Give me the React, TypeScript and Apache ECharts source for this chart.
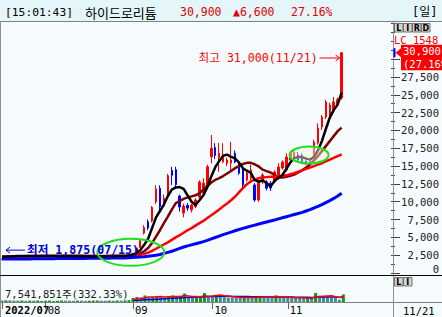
import React, { useEffect, useRef } from 'react';
import * as echarts from 'echarts';

const dates = [
  '07/15','07/18','07/19','07/20','07/21','07/22','07/25','07/26','07/27','07/28','07/29',
  '08/01','08/02','08/03','08/04','08/05','08/08','08/09','08/10','08/11','08/12','08/16','08/17','08/18','08/19','08/22','08/23','08/24','08/25','08/26','08/29','08/30','08/31',
  '09/01','09/02','09/05','09/06','09/07','09/08','09/13','09/14','09/15','09/16','09/19','09/20','09/21','09/22','09/23','09/26','09/27','09/28','09/29','09/30',
  '10/04','10/05','10/06','10/07','10/11','10/12','10/13','10/14','10/17','10/18','10/19','10/20','10/21','10/24','10/25','10/26','10/27','10/28','10/31',
  '11/01','11/02','11/03','11/04','11/07','11/08','11/09','11/10','11/11','11/14','11/15','11/16','11/17','11/18','11/21',
];
const futureSlots = 12;

const opens = [
  1900,1990,2100,2250,2380,2350,2400,2380,2420,2390,
  2360,2400,2380,2350,2370,2400,2420,2390,2360,2340,
  2370,2350,2330,2310,2340,2360,2380,2360,2390,2410,
  2400,2430,2450,2500,2750,3600,5600,7200,7300,10000,
  11900,9500,10700,14400,14500,10800,8400,9500,8850,9300,
  10660,11200,12100,16300,17600,16200,15600,15400,15400,16800,
  15400,14700,13050,13300,12350,10240,12770,12770,12600,12770,
  13330,14730,14450,15850,16130,16550,16500,15700,15600,16830,
  18240,20480,21890,22170,22870,23570,24550,
];
const closes = [
  1980,2100,2250,2380,2350,2400,2380,2420,2390,2360,
  2400,2380,2350,2370,2400,2420,2390,2360,2340,2370,
  2350,2330,2310,2340,2360,2380,2360,2390,2410,2400,
  2430,2450,2500,2700,3500,4550,6400,6300,9200,11800,
  9300,10500,13650,13700,12400,9260,9400,9100,9540,10240,
  12770,12600,14900,17500,16500,16800,16500,15850,15850,15570,
  14000,12350,14030,14450,10240,12600,13750,11900,11930,14170,
  14870,15570,16270,16830,16970,15850,15600,15400,15300,18380,
  20340,21890,23990,23570,23990,24300,30900,
];
const lows = [
  1875,1960,2080,2220,2300,2320,2350,2350,2360,2330,
  2340,2350,2320,2320,2350,2380,2370,2340,2310,2320,
  2330,2300,2290,2290,2320,2340,2340,2350,2370,2380,
  2390,2400,2420,2480,2700,3500,5400,6000,7100,9700,
  8800,9300,10400,12350,12000,8600,7800,8700,8500,9100,
  10400,10800,11800,15400,16000,14200,15400,15000,14200,15400,
  13800,12000,12800,13000,10000,10000,12500,11600,11500,12600,
  13100,14500,14200,15500,15900,15600,15300,15200,15100,16500,
  18000,20060,21600,22000,22600,23300,24300,
];
const highs = [
  2010,2150,2300,2420,2450,2450,2440,2470,2450,2420,
  2430,2440,2400,2400,2430,2460,2450,2410,2380,2400,
  2390,2370,2350,2370,2390,2410,2400,2420,2440,2440,
  2470,2500,2550,2750,3510,4600,6700,7500,9400,12300,
  12300,11000,13900,14900,14900,11000,9700,9800,9700,10500,
  13000,13300,15200,19360,18200,18240,18200,16200,18400,17200,
  15600,15000,14300,15200,12600,12900,14000,13000,12900,14400,
  15400,15800,16800,17100,17300,17000,16800,15800,15700,18700,
  21000,22170,24270,23900,24700,24600,31000,
];

const ma5 = [
  2280,2300,2330,2350,2370,
  2380,2390,2390,2400,2400,2390,2390,2380,2380,2380,2390,2400,2400,2390,2380,2370,2360,2350,2340,2340,2350,2360,2370,2380,2390,2400,
  2420,2460,2560,2800,3200,3950,4800,6300,7800,8700,9600,10800,11700,12000,12050,11800,10900,10000,9550,10200,
  10900,12050,13550,14850,15700,16450,16600,16300,16100,15500,14700,14350,14050,13050,12800,13000,12600,12150,12900,13350,
  13750,14600,15500,16100,16300,16250,16050,15900,16300,17200,18500,20200,21800,22850,23650,25300,
];
const ma10 = [
  2250,2260,2270,2290,2300,2320,2330,2340,2350,2360,2370,
  2380,2380,2380,2380,2390,2390,2390,2390,2380,2380,2380,2370,2370,2370,2360,2360,2360,2370,2370,2380,
  2390,2400,2450,2550,2750,3050,3500,4200,5100,
  6000,7000,7900,8900,9800,10100,10400,10600,10750,10900,11200,11700,12200,12700,13050,13300,13600,13950,14300,14700,
  15000,15300,15450,15450,15250,14950,14500,14300,14100,13750,13400,13400,13500,13650,13800,14100,14400,14800,15250,15800,
  16400,17100,17800,18500,19200,19900,20400,
];
const ma20 = [
  2300,2310,2320,2330,2340,2350,2360,2370,2370,2380,2380,
  2380,2380,2390,2390,2390,2390,2390,2390,2390,2390,2390,2380,2380,2380,2380,2380,2380,2380,2380,2380,
  2390,2400,2420,2460,2550,2680,2850,3100,3400,3700,4000,4300,4650,5000,5300,5650,6000,6300,6650,7000,
  7300,7700,8100,8500,8900,9350,9750,10200,10700,11300,11900,12450,12850,13100,13300,13400,13450,13500,13500,13550,
  13600,13700,13850,14000,14200,14400,14600,14800,15000,15200,15400,15650,15900,16150,16400,16650,
];
const ma60 = [
  1950,1950,1960,1960,1970,1970,1980,1980,1990,1990,
  2000,2000,2010,2010,2020,2020,2030,2030,2040,2040,
  2050,2050,2060,2060,2070,2070,2080,2080,2090,2100,
  2110,2120,2130,2180,2220,2250,2280,2340,2420,2500,
  2600,2750,2900,3050,3250,3450,3650,3800,3950,4100,
  4250,4400,4580,4780,4980,5180,5380,5560,5740,5920,
  6100,6260,6420,6570,6720,6870,7010,7150,7290,7430,
  7600,7750,7900,8050,8200,8350,8500,8700,8900,9120,
  9350,9600,9880,10160,10460,10800,11200,
];

// volume in millions of shares
const volumes = [
  1.5,1.7,1.6,1.4,1.3,1.5,1.2,1.4,1.3,1.5,1.2,1.3,1.4,1.2,1.3,1.5,1.4,1.3,1.2,1.4,1.3,1.2,1.3,1.4,1.5,1.3,1.2,1.4,1.3,1.5,1.4,1.6,1.8,
  4,5,4.5,6.5,4.5,5,6,5,4.5,6,
  6.5,5,6,8.5,4.5,4,4.5,5,9,6,
  6,7,7,5,4.5,4.5,4.5,4.5,5,4.5,
  4,5,6,6,4.5,4.5,6.5,4.5,4.5,4.5,
  4,4,4,3.5,4,3.5,9,6.5,6,5,
  4.5,4,2.2694,7.541851,
];
const volMaStart = 33;
const volMa5 = [
  2.2,2.9,3.4,4.2,4.9,5.1,5.3,5.4,5.0,5.3,5.6,5.4,5.6,6.4,6.1,5.6,5.5,5.3,6.2,5.7,
  6.1,6.6,7.0,6.2,5.9,5.6,5.1,4.7,4.6,4.6,4.5,4.6,4.9,5.1,5.1,5.2,5.5,5.2,4.9,4.9,
  4.8,4.3,4.2,4.0,3.9,3.8,4.8,5.3,5.8,6.0,6.2,5.2,4.4,4.7,
];
const volMa20 = [
  1.6,1.8,1.9,2.2,2.4,2.6,2.8,3.0,3.2,3.4,3.7,3.9,4.1,4.5,4.6,4.7,4.9,5.0,5.3,5.4,
  5.5,5.6,5.7,5.7,5.7,5.6,5.6,5.5,5.5,5.4,5.3,5.3,5.3,5.2,5.2,5.1,5.1,5.0,5.0,4.9,
  4.9,4.8,4.8,4.7,4.7,4.6,4.8,4.9,5.0,5.0,5.0,4.9,4.8,5.0,
];

const monthLabels = ['2022/07', '08', '09', '10', '11'];
const clockText = '[15:01:43]';
const stockName = '하이드로리튬';
const periodText = '[일]';
const lcText = 'LC 1548';
const buttonsTop = ['L', 'I', 'R', 'D'];
const buttonsVol = ['L', 'I'];
const circleIdx = [33, 77];
const circlePrice = [2900, 16550];

const MONO = '"DejaVu Sans Mono", "Noto Sans CJK KR", monospace';
const KR = '"Noto Sans CJK KR", "DejaVu Sans", sans-serif';
const BG = '#f6fbfd';

const fmt = (n: number) => Math.round(n).toLocaleString('en-US');

export default function App() {
  const ref = useRef<HTMLDivElement>(null);

  useEffect(() => {
    const el = ref.current!;
    const chart = echarts.init(el, null, { renderer: 'svg' });
    const cats = [...dates, ...Array.from({ length: futureSlots }, (_, k) => `+${k + 1}`)];
    const monthIdx: number[] = [];
    dates.forEach((d, i) => {
      if (i === 0 || d.slice(0, 2) !== dates[i - 1].slice(0, 2)) monthIdx.push(i);
    });
    const labelAt = new Map<number, string>();
    monthIdx.forEach((i, k) => labelAt.set(i, monthLabels[k]));

    const candleData = opens.map((o, i) => [o, closes[i], lows[i], highs[i]]);
    const volData = volumes.map((v, i) => ({
      value: v,
      itemStyle: { color: i > 0 && v > volumes[i - 1] ? '#109a10' : '#3f8f8f' },
    }));
    const pad = (arr: number[]) => [...Array(volMaStart).fill(null), ...arr];

    const option: any = {
      animation: false,
      backgroundColor: BG,
      grid: [
        { left: 0, width: 393, top: 23.5, height: 249.5 },
        { left: 0, width: 393, top: 276, height: 26 },
      ],
      xAxis: [
        {
          type: 'category', gridIndex: 0, data: cats, boundaryGap: true,
          axisLine: { show: false }, axisTick: { show: false }, axisLabel: { show: false }, splitLine: { show: false },
        },
        {
          type: 'category', gridIndex: 1, data: cats, boundaryGap: true,
          axisLine: { show: false },
          axisTick: { show: true, alignWithLabel: true, interval: (i: number) => labelAt.has(i), length: 7, lineStyle: { color: '#606060' } },
          axisLabel: {
            show: true,
            hideOverlap: false,
            interval: (i: number) => labelAt.has(i) && i > 0,
            formatter: (_v: string, i: number) => (i === 0 ? '' : labelAt.get(i) ?? ''),
            align: 'left', margin: 3, padding: [0, 0, 0, 2],
            color: '#000', fontFamily: MONO, fontSize: 10.5,
          },
          splitLine: { show: false },
        },
      ],
      yAxis: [
        {
          type: 'value', gridIndex: 0, position: 'right', min: 0, max: 35000, interval: 2500,
          axisLine: { show: false },
          axisTick: { show: true, length: 9, lineStyle: { color: '#404040' } },
          minorTick: { show: true, splitNumber: 2, length: 4, lineStyle: { color: '#404040' } },
          splitLine: { show: false },
          axisLabel: {
            align: 'right', margin: 48, color: '#202020', fontFamily: MONO, fontSize: 10.5,
            formatter: (v: number) => (v > 27500 ? '' : v === 0 ? '{z|0}' : fmt(v)),
            rich: { z: { padding: [0, 0, 9, 0], fontFamily: MONO, fontSize: 10.5, color: '#202020' } },
          },
        },
        { type: 'value', gridIndex: 1, min: 0, max: 26, show: false },
      ],
      series: [
        {
          type: 'candlestick', xAxisIndex: 0, yAxisIndex: 0, data: candleData, barWidth: 2, silent: true,
          itemStyle: { color: '#ff0000', color0: '#0000ff', borderColor: '#ff0000', borderColor0: '#0000ff', borderWidth: 1 },
        },
        { type: 'line', name: 'MA10', xAxisIndex: 0, yAxisIndex: 0, data: ma10, symbol: 'none', silent: true, lineStyle: { color: '#800000', width: 2.5 } },
        { type: 'line', name: 'MA20', xAxisIndex: 0, yAxisIndex: 0, data: ma20, symbol: 'none', silent: true, lineStyle: { color: '#ff0000', width: 2.5 } },
        { type: 'line', name: 'MA60', xAxisIndex: 0, yAxisIndex: 0, data: ma60, symbol: 'none', silent: true, lineStyle: { color: '#0000ff', width: 3 } },
        { type: 'line', name: 'MA5', xAxisIndex: 0, yAxisIndex: 0, data: ma5, symbol: 'none', silent: true, lineStyle: { color: '#000000', width: 2.5 } },
        { type: 'bar', xAxisIndex: 1, yAxisIndex: 1, data: volData, barWidth: 3, silent: true },
        { type: 'line', xAxisIndex: 1, yAxisIndex: 1, data: pad(volMa20), symbol: 'none', silent: true, lineStyle: { color: '#0000ff', width: 1.5 } },
        { type: 'line', xAxisIndex: 1, yAxisIndex: 1, data: pad(volMa5), symbol: 'none', silent: true, lineStyle: { color: '#ff0000', width: 1.5 } },
      ],
    };
    chart.setOption(option);

    const last = closes.length - 1;
    const price = closes[last];
    const chg = price - closes[last - 1];
    const pct = (chg / closes[last - 1]) * 100;
    const hiIdx = highs.indexOf(Math.max(...highs));
    const loIdx = lows.indexOf(Math.min(...lows));
    const toPx = (i: number, v: number) => chart.convertToPixel({ gridIndex: 0 }, [i, v]) as number[];
    const [hx, hy] = toPx(hiIdx, highs[hiIdx]);
    const [lx, ly] = toPx(loIdx, lows[loIdx]);
    const [, py] = toPx(last, price);
    const [fx] = toPx(0, 0);
    const rings = circleIdx.map((ci, k) => toPx(ci, circlePrice[k]));

    const T = (x: number, y: number, text: string, fill = '#000', size = 10.5, family = MONO, align = 'left', weight = 'normal') => ({
      type: 'text', x, y, z: 100, silent: true,
      style: { text, fill, fontSize: size, fontFamily: family, fontWeight: weight, align, verticalAlign: 'middle', textAlign: align, textVerticalAlign: 'middle' },
    });
    const L = (x1: number, y1: number, x2: number, y2: number, stroke: string, lineWidth = 1) => ({
      type: 'line', z: 100, silent: true, shape: { x1, y1, x2, y2 }, style: { stroke, lineWidth },
    });
    const btn = (x: number, y: number, w: number, h: number, t: string) => [
      { type: 'rect', z: 100, silent: true, shape: { x, y, width: w, height: h }, style: { fill: '#d6d3ce', stroke: '#707070', lineWidth: 1 } },
      T(x + w / 2, y + h / 2 + 0.5, t, '#000', 8, '"DejaVu Sans", sans-serif', 'center', 'bold'),
    ];

    const graphics: any[] = [
      { type: 'rect', z: 99, silent: true, shape: { x: 0, y: 0, width: 442, height: 21.5 }, style: { fill: '#e4f6fa' } },
      L(0, 21.5, 442, 21.5, '#808080'),
      T(5, 12, clockText, '#000', 11.3),
      T(85, 12, stockName, '#000', 13, KR),
      T(180, 12, fmt(price), '#e00000', 11.5),
      T(233, 12, `▲${fmt(chg)}`, '#e00000', 11.5),
      T(291, 12, `${pct.toFixed(2)}%`, '#e00000', 11.5),
      T(412, 12, periodText, '#000', 12, MONO),
      L(0.5, 21.5, 0.5, 317, '#909090'),
      L(393.5, 21.5, 393.5, 317, '#909090'),
      L(0, 275.5, 442, 275.5, '#000000'),
      L(0, 302.5, 442, 302.5, '#808080'),
      { type: 'rect', z: 99, silent: true, shape: { x: 394, y: 33, width: 48, height: py - 41 }, style: { fill: BG } },
      ...buttonsTop.flatMap((b, k) => btn(394.5 + k * 9, 23.5, 8.5, 8.5, b)),
      ...buttonsVol.flatMap((b, k) => btn(394.5 + k * 9, 277.5, 8.5, 8.5, b)),
      T(394, 39.5, lcText, '#ff0000', 10.5),
      { type: 'rect', z: 100, silent: true, shape: { x: 401, y: py - 8, width: 41, height: 25.5 }, style: { fill: '#ff0000' } },
      { type: 'rect', z: 100, silent: true, shape: { x: 393.5, y: py - 4.5, width: 2, height: 9 }, style: { fill: '#0000ff' } },
      { type: 'polygon', z: 100, silent: true, shape: { points: [[395.5, py], [401, py - 4.5], [401, py + 4.5]] }, style: { fill: '#ff0000' } },
      T(403, py - 1.5, fmt(price), '#ffffff', 10.5),
      T(403, py + 11.2, `(${pct.toFixed(2)}%)`, '#ffffff', 10.5),
      T(5, 294, `${fmt(volumes[last] * 1e6)}주(${((volumes[last] / volumes[last - 1]) * 100).toFixed(2)}%)`, '#202020', 10.5),
      T(fx + 3, 309.5, monthLabels[0], '#000', 10.5, MONO, 'left', 'bold'),
      T(403, 310.5, dates[last], '#000', 10.5),
      ...rings.map((p, k) => ({
        type: 'ellipse', z: 100, silent: true,
        shape: k === 0 ? { cx: p[0] - 1.5, cy: p[1], rx: 33.5, ry: 13.5 } : { cx: p[0] + 3, cy: p[1], rx: 19.5, ry: 8.5 },
        style: { fill: k === 0 ? 'none' : 'rgba(255,245,215,0.45)', stroke: '#1ee01e', lineWidth: 2 },
      })),
      T(hx - 24, hy + 6, `최고 ${fmt(highs[hiIdx])}(${dates[hiIdx]})`, '#ff0000', 11.6, MONO, 'right'),
      L(hx - 22, hy + 6, hx - 2, hy + 6, '#ff0000'),
      { type: 'polyline', z: 100, silent: true, shape: { points: [[hx - 6, hy + 3], [hx - 2, hy + 6], [hx - 6, hy + 9]] }, style: { stroke: '#ff0000', fill: 'none', lineWidth: 1 } },
      L(lx + 4, ly - 9.5, lx + 23, ly - 9.5, '#0000dd'),
      { type: 'polyline', z: 100, silent: true, shape: { points: [[lx + 8, ly - 12.5], [lx + 4, ly - 9.5], [lx + 8, ly - 6.5]] }, style: { stroke: '#0000dd', fill: 'none', lineWidth: 1 } },
      T(lx + 25, ly - 9.5, `최저 ${fmt(lows[loIdx])}(${dates[loIdx]})`, '#0000dd', 11.6, MONO, 'left', 'bold'),
    ];
    chart.setOption({ graphic: graphics });

    return () => chart.dispose();
  }, []);

  return <div ref={ref} style={{ position: 'fixed', left: 0, top: 0, width: 442, height: 317, background: BG }} />;
}
